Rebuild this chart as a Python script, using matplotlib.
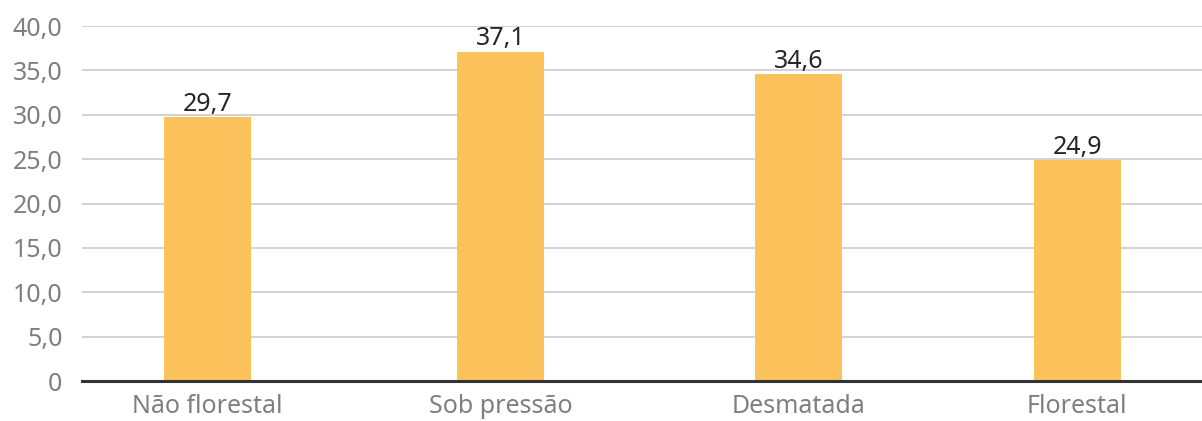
import matplotlib
matplotlib.use("Agg")
import matplotlib.pyplot as plt
from matplotlib.ticker import FuncFormatter

categories = ["Não florestal", "Sob pressão", "Desmatada", "Florestal"]
values = [29.7, 37.1, 34.6, 24.9]
positions = [0, 1.01, 2.04, 3.0]
yticks = [0, 5, 10, 15, 20, 25, 30, 35, 40]

plt.rcParams['font.family'] = ['Noto Sans', 'DejaVu Sans']

fig = plt.figure(figsize=(12.02, 4.21), dpi=100)
ax = fig.add_axes([0.0682, 0.095, 0.9318, 0.843])

bars = ax.bar(positions, values, width=0.3, color='#FCC25C', zorder=3)

for x, v in zip(positions, values):
    ax.text(x, v + 0.05, f"{v:.1f}".replace('.', ','), ha='center', va='bottom',
            fontsize=18, color='#262626', zorder=4)

ax.set_ylim(0, 40)
ax.set_xlim(-0.433, 3.43)
ax.set_yticks(yticks)
ax.yaxis.set_major_formatter(FuncFormatter(lambda v, p: "0" if v == 0 else f"{v:.1f}".replace('.', ',')))
ax.set_xticks(positions)
ax.set_xticklabels(categories)

ax.grid(axis='y', color='#c6c6c6', linewidth=1.1, zorder=0)
ax.tick_params(axis='both', length=0, labelsize=18, labelcolor='#7f7f7f')
ax.tick_params(axis='y', pad=14)
ax.tick_params(axis='x', pad=9)

for s in ['top', 'right', 'left']:
    ax.spines[s].set_visible(False)
ax.spines['bottom'].set_color('#333333')
ax.spines['bottom'].set_linewidth(2.2)
ax.spines['bottom'].set_zorder(5)

fig.savefig("out.png", dpi=100)
